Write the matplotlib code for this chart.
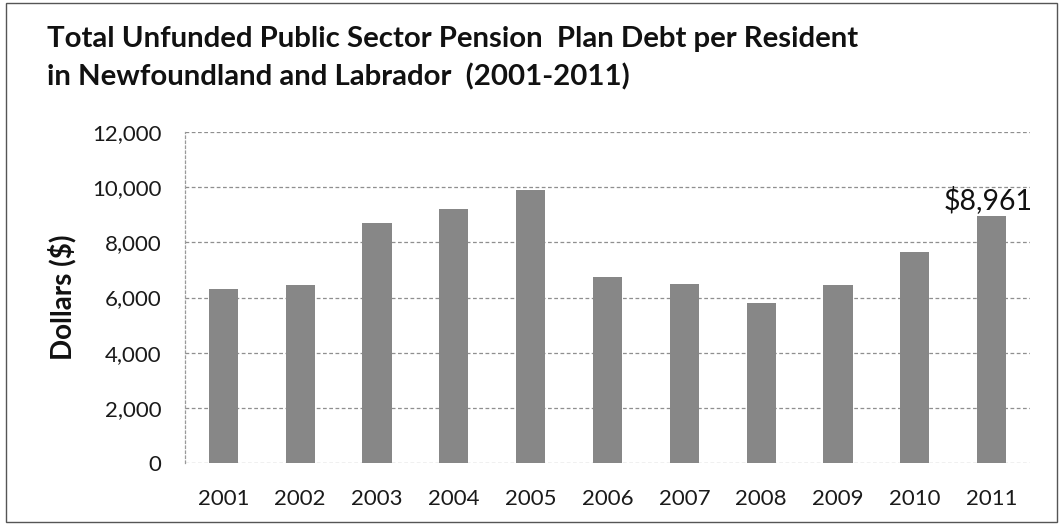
import matplotlib
matplotlib.use("Agg")
import matplotlib.pyplot as plt
from matplotlib.patches import Rectangle
from matplotlib.ticker import FuncFormatter

years = ["2001", "2002", "2003", "2004", "2005", "2006",
         "2007", "2008", "2009", "2010", "2011"]
debt_per_resident = [6300, 6450, 8700, 9200, 9900, 6750,
                     6500, 5800, 6450, 7650, 8961]
y_ticks = [0, 2000, 4000, 6000, 8000, 10000, 12000]

title_lines = ["Total Unfunded Public Sector Pension  Plan Debt per Resident",
               "in Newfoundland and Labrador  (2001-2011)"]

plt.rcParams["font.family"] = ["Lato", "DejaVu Sans"]

W, H = 1063, 529
fig = plt.figure(figsize=(W / 100, H / 100), dpi=100)
fig.patch.set_facecolor("white")

# frame round the whole chart
fig.patches.append(Rectangle((0.006, 0.014), 0.988, 0.981, transform=fig.transFigure,
                             fill=False, edgecolor="#555555", linewidth=1.0))

for i, line in enumerate(title_lines):
    fig.text(47 / W, 1 - (47 + 38 * i) / H, line, ha="left", va="baseline",
             fontsize=21.2, fontweight="bold", color="#111111")

ax = fig.add_axes([185 / W, 1 - 463 / H, 845 / W, 331 / H])
x = range(len(years))
ax.bar(x, debt_per_resident, width=0.38, color="#878787", zorder=3)

ax.set_xlim(-0.5, len(years) - 0.5)
ax.set_ylim(0, 12000)
ax.set_yticks(y_ticks)
ax.yaxis.set_major_formatter(FuncFormatter(lambda v, p: f"{int(v):,}"))
ax.set_xticks(list(x))
ax.set_xticklabels(years)
ax.tick_params(axis="both", length=0, labelsize=16, colors="#1a1a1a")
ax.tick_params(axis="y", pad=17)
ax.tick_params(axis="x", pad=19)

for v in y_ticks:
    ax.axhline(v, color="#8f8f8f", linewidth=0.9, linestyle=(0, (3, 2)), zorder=1)

for side in ["top", "right", "bottom"]:
    ax.spines[side].set_visible(False)
ax.spines["left"].set_color("#9a9a9a")
ax.spines["left"].set_linestyle((0, (2, 2)))
ax.spines["left"].set_linewidth(0.9)

ax.set_ylabel("Dollars ($)", fontsize=20, fontweight="bold", color="#111111")
ax.yaxis.set_label_coords((76 - 185) / 845, 0.5)

# value callout on the latest year
last = len(years) - 1
ax.text(last - 0.05, debt_per_resident[last] + 60, f"${debt_per_resident[last]:,}",
        ha="center", va="bottom", fontsize=20.5, color="#111111", zorder=4)

fig.savefig("out.png", dpi=100)
